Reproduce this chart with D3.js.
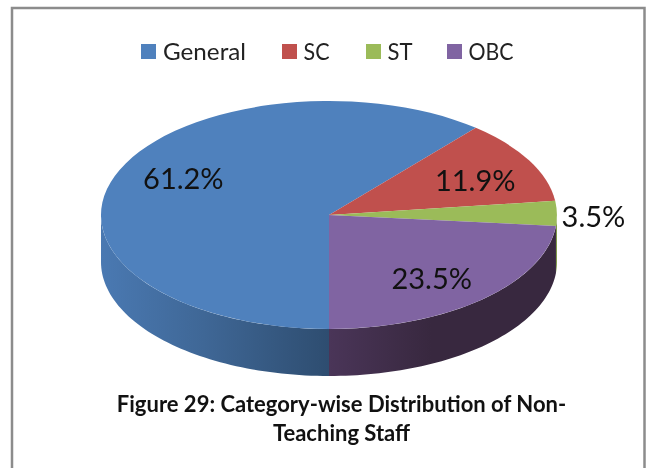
<!DOCTYPE html>
<html>
<head>
<meta charset="utf-8">
<script src="https://cdn.jsdelivr.net/npm/d3@7"></script>
<style>
  html, body { margin: 0; padding: 0; background: #fff; }
  svg { display: block; font-family: Lato, "Open Sans", sans-serif; filter: blur(0.45px); }
</style>
</head>
<body>
<div id="chart"></div>
<script>
const categories = ["General", "SC", "ST", "OBC"];
const shares = [61.2, 11.9, 3.5, 23.5];
const titleLines = ["Figure 29: Category-wise Distribution of Non-", "Teaching Staff"];

const colors = ["#4f81bd", "#c0504d", "#9bbb59", "#8064a2"];
const wallLeft = ["#4a79b2", "#8a3a38", "#7f9a48", "#4a3558"];
const wallMid = ["#3f6796", "#8a3a38", "#7f9a48", "#38283f"];
const wallRight = ["#2e4d70", "#8a3a38", "#7f9a48", "#38283f"];

const width = 651, height = 468;
const cx = 329, cy = 215, rx = 228, ry = 114, depth = 47;

const svg = d3.select("#chart").append("svg")
    .attr("width", width)
    .attr("height", height);

// frame
svg.append("rect")
    .attr("x", 12)
    .attr("y", 8)
    .attr("width", 632.5)
    .attr("height", 480)
    .attr("fill", "#fff")
    .attr("stroke", "#8c8c8c")
    .attr("stroke-width", 2.5);

// pie starts at the bottom and goes clockwise
const pie = d3.pie().sort(null).startAngle(Math.PI).endAngle(3 * Math.PI);
const arcs = pie(shares);
const arc = d3.arc().innerRadius(0).outerRadius(1);

const px = a => cx + rx * Math.sin(a);
const py = (a, off) => cy - ry * Math.cos(a) + off;

// wall path for the front part of a slice (angles between 90 and 270 deg)
function wallPath(a0, a1) {
    const pts = d3.range(0, 61).map(i => a0 + (a1 - a0) * i / 60);
    const top = pts.map(a => [px(a), py(a, 0)]);
    const bottom = pts.slice().reverse().map(a => [px(a), py(a, depth)]);
    return d3.line()(top.concat(bottom)) + "Z";
}

const defs = svg.append("defs");
const front = [];
arcs.forEach((d, i) => {
    // unwrap so angles compare against the front half
    [0, 2 * Math.PI].forEach(shift => {
        const a0 = Math.max(d.startAngle - shift, Math.PI / 2);
        const a1 = Math.min(d.endAngle - shift, 3 * Math.PI / 2);
        if (a1 > a0) front.push({ i: i, a0: a0, a1: a1 });
    });
});

front.forEach((f, n) => {
    const g = defs.append("linearGradient")
        .attr("id", "wall" + n)
        .attr("gradientUnits", "userSpaceOnUse")
        .attr("x1", Math.min(px(f.a0), px(f.a1)))
        .attr("x2", Math.max(px(f.a0), px(f.a1)))
        .attr("y1", 0)
        .attr("y2", 0);
    g.append("stop").attr("offset", 0).attr("stop-color", wallLeft[f.i]);
    g.append("stop").attr("offset", 0.45).attr("stop-color", wallMid[f.i]);
    g.append("stop").attr("offset", 1).attr("stop-color", wallRight[f.i]);
    svg.append("path")
        .attr("d", wallPath(f.a0, f.a1))
        .attr("fill", `url(#wall${n})`);
});

// top face
svg.append("g")
    .attr("transform", `translate(${cx},${cy}) scale(${rx},${ry})`)
    .selectAll("path")
    .data(arcs)
    .enter().append("path")
    .attr("d", arc)
    .attr("fill", (d, i) => colors[i]);

// data labels, radial factor and vertical nudge per slice
const labelR = [0.68, 0.73, 1.16, 0.67];
const labelDy = [-10, 6, 4, 7];
svg.selectAll(".lbl")
    .data(arcs)
    .enter().append("text")
    .attr("class", "lbl")
    .attr("x", (d, i) => cx + rx * labelR[i] * Math.sin((d.startAngle + d.endAngle) / 2))
    .attr("y", (d, i) => cy - ry * labelR[i] * Math.cos((d.startAngle + d.endAngle) / 2) + labelDy[i])
    .attr("dy", "0.35em")
    .attr("text-anchor", "middle")
    .attr("font-size", 29)
    .attr("fill", "#111")
    .text(d => d.value.toFixed(1) + "%");

// legend
const legendSwatch = [141, 282, 366, 447];
const legendTextW = [83, 26, 25, 45];
const legend = svg.selectAll(".leg")
    .data(categories)
    .enter().append("g")
    .attr("class", "leg")
    .attr("transform", (d, i) => `translate(${legendSwatch[i]},44)`);
legend.append("rect")
    .attr("width", 15)
    .attr("height", 15)
    .attr("fill", (d, i) => colors[i]);
legend.append("text")
    .attr("x", (d, i) => i == 0 ? 22 : 21.5)
    .attr("y", 16)
    .attr("font-size", 24)
    .attr("fill", "#222")
    .attr("textLength", (d, i) => legendTextW[i])
    .attr("lengthAdjust", "spacingAndGlyphs")
    .text(d => d);

// caption
svg.selectAll(".cap")
    .data(titleLines)
    .enter().append("text")
    .attr("class", "cap")
    .attr("x", 341.5)
    .attr("y", (d, i) => 412 + i * 29)
    .attr("text-anchor", "middle")
    .attr("font-size", 22)
    .attr("font-weight", "bold")
    .attr("fill", "#111")
    .text(d => d);
</script>
</body>
</html>
